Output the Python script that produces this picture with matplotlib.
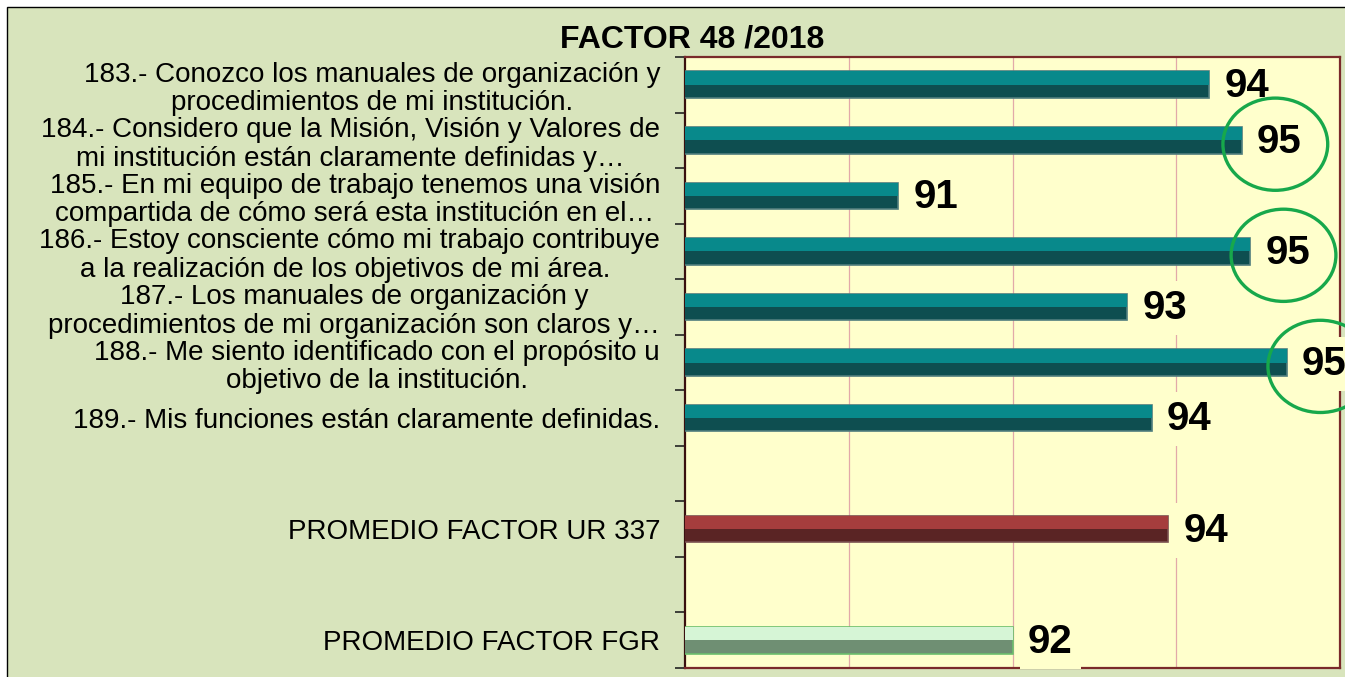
import numpy as np
import matplotlib.pyplot as plt
from matplotlib.patches import Ellipse, Rectangle

# datos
preguntas = [
    "183.- Conozco los manuales de organización y\nprocedimientos de mi institución.",
    "184.- Considero que la Misión, Visión y Valores de\nmi institución están claramente definidas y…",
    "185.- En mi equipo de trabajo tenemos una visión\ncompartida de cómo será esta institución en el…",
    "186.- Estoy consciente cómo mi trabajo contribuye\na la realización de los objetivos de mi área. ",
    "187.- Los manuales de organización y\nprocedimientos de mi organización son claros y…",
    "188.- Me siento identificado con el propósito u\nobjetivo de la institución.",
    "189.- Mis funciones están claramente definidas.",
]
valores_preguntas = [94.4, 94.8, 90.6, 94.9, 93.4, 95.35, 93.7]

promedios = ["PROMEDIO FACTOR UR 337", "PROMEDIO FACTOR FGR"]
valores_promedios = [93.9, 92.0]

# preguntas marcadas con circulo verde
destacadas = [1, 3, 5]

titulo = "FACTOR 48 /2018"

# colores (claro arriba, oscuro abajo, borde)
col_preg = ("#08898B", "#0E4E50", "#4F7D7D")
col_ur = ("#A53D3D", "#5A2424", "#7A5050")
col_fgr = ("#D6F5D6", "#6F8F73", "#6CBF6C")

fondo = "#D8E4BC"
fondo_plot = "#FFFFCC"

plt.rcParams["font.family"] = ["Liberation Sans", "DejaVu Sans"]

fig = plt.figure(figsize=(13.45, 6.77), dpi=100, facecolor="white")
fig.patches.append(Rectangle((7 / 1345, -0.1), 1.2, 1 - 7 / 677 + 0.1,
                             transform=fig.transFigure, facecolor=fondo,
                             edgecolor="black", linewidth=1, zorder=-10))

ax = fig.add_axes([685 / 1345, 1 - 668 / 677, 655 / 1345, 611 / 677])
ax.set_facecolor(fondo_plot)

# posiciones: preguntas, un hueco, promedio UR, hueco, promedio FGR
y_preg = np.arange(len(preguntas))
y_prom = len(preguntas) + 1 + 2 * np.arange(len(promedios))

alto = 0.48


def barra(y, v, cols):
    claro, oscuro, borde = cols
    ax.barh(y, v, height=alto, color=oscuro, edgecolor=borde, linewidth=1.2, zorder=3)
    ax.barh(y - alto / 4, v, height=alto / 2, color=claro, linewidth=0, zorder=4)


for y, v in zip(y_preg, valores_preguntas):
    barra(y, v, col_preg)
barra(y_prom[0], valores_promedios[0], col_ur)
barra(y_prom[1], valores_promedios[1], col_fgr)

todos_y = list(y_preg) + list(y_prom)
todos_v = valores_preguntas + valores_promedios
for y, v in zip(todos_y, todos_v):
    ax.annotate(f"{v:.0f}", (v, y), xytext=(11, -1), textcoords="offset points",
                ha="left", va="center", fontsize=29, fontweight="bold",
                annotation_clip=False, zorder=10,
                bbox=dict(boxstyle="square,pad=0.2", facecolor=fondo_plot, edgecolor="none"))

# circulos verdes alrededor de los 95
for i in destacadas:
    ax.add_patch(Ellipse((valores_preguntas[i] + 0.41, y_preg[i] + 0.07), 1.28, 1.66,
                         facecolor="none", edgecolor="#17A84B", linewidth=2.4,
                         zorder=11, clip_on=False))

ax.set_xlim(88, 96)
ax.set_ylim(len(todos_y) + 1.5, -0.5)
ax.set_xticks([90, 92, 94])
ax.xaxis.grid(True, color="#E2A9A9", linewidth=0.9, zorder=1)
ax.set_axisbelow(True)
ax.tick_params(axis="x", length=0, labelbottom=False)

ax.set_yticks(todos_y)
ax.set_yticklabels(preguntas + promedios, fontsize=20, linespacing=1.13)
ax.tick_params(axis="y", length=0, pad=18)
for lab in ax.get_yticklabels():
    lab.set_multialignment("center")
ax.set_yticks(np.arange(-0.5, len(todos_y) + 2, 1), minor=True)
ax.tick_params(axis="y", which="minor", length=7, width=1.2, color="#222222")

for s in ["top", "right", "bottom"]:
    ax.spines[s].set_color("#7A2A2A")
    ax.spines[s].set_linewidth(1.6)
ax.spines["left"].set_color("#3A1010")
ax.spines["left"].set_linewidth(1.6)

fig.text(692 / 1345, 1 - 40 / 677, titulo, ha="center", va="center",
         fontsize=23, fontweight="bold")

fig.savefig("out.png", dpi=100, facecolor=fig.get_facecolor())
